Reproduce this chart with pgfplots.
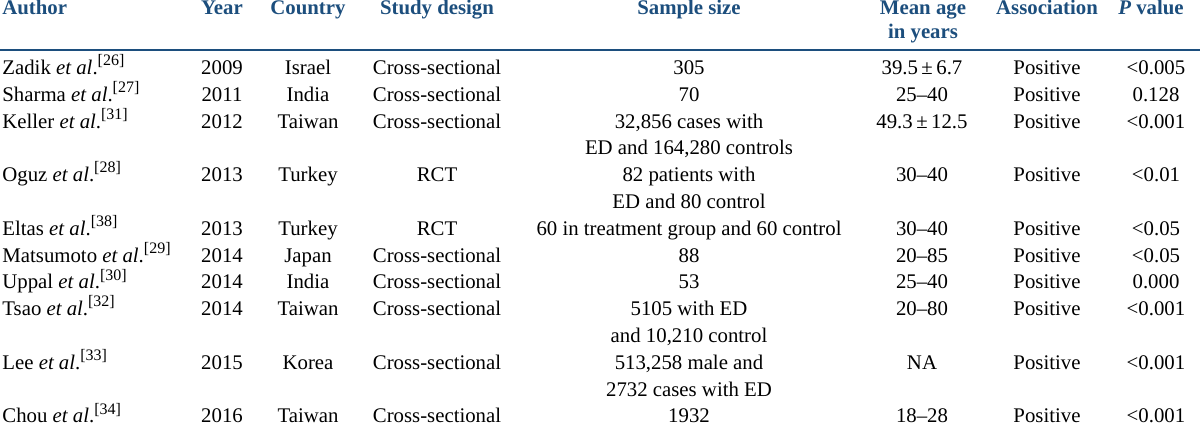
\documentclass[border=0pt]{standalone}
\usepackage{fontspec}
\setmainfont{Liberation Serif}
\usepackage{pgfplots}
\pgfplotsset{compat=1.18}
\definecolor{hdr}{RGB}{28,78,125}
\tikzset{
  hd/.style={anchor=base,inner sep=0pt,text=hdr,font=\fontsize{10.4}{12}\selectfont\bfseries},
  hdl/.style={hd,anchor=base west},
  c/.style={anchor=base,inner sep=0pt,font=\fontsize{10.4}{12}\selectfont},
  l/.style={c,anchor=base west}
}
\newcommand{\etal}{\textit{et al}.}
\newcommand{\rf}[1]{\raisebox{0.42em}{\fontsize{8}{8}\selectfont[#1]}}
\begin{document}
\begin{tikzpicture}
\begin{axis}[width=600pt,height=215.5pt,scale only axis,
  xmin=0,xmax=1200,ymin=0,ymax=431,y dir=reverse,
  axis lines=none,clip=false]
% header
\node[hdl] at (axis cs:2,15) {Author};
\node[hd] at (axis cs:222,15) {Year};
\node[hd] at (axis cs:308,15) {Country};
\node[hd] at (axis cs:437,15) {Study design};
\node[hd] at (axis cs:689,15) {Sample size};
\node[hd] at (axis cs:923,15) {Mean age};
\node[hd] at (axis cs:923,39) {in years};
\node[hd] at (axis cs:1047,15) {Association};
\node[hd] at (axis cs:1151,15) {\textit{P} value};
\addplot[hdr,line width=1pt] coordinates {(0,50) (1200,50)};
% row 1
\node[l] at (axis cs:2,74.5) {Zadik \etal\rf{26}};
\node[c] at (axis cs:222,74.5) {2009};
\node[c] at (axis cs:308,74.5) {Israel};
\node[c] at (axis cs:437,74.5) {Cross-sectional};
\node[c] at (axis cs:689,74.5) {305};
\node[c] at (axis cs:922,74.5) {39.5\,±\,6.7};
\node[c] at (axis cs:1047,74.5) {Positive};
\node[c] at (axis cs:1156,74.5) {<0.005};
% row 2
\node[l] at (axis cs:2,101.3) {Sharma \etal\rf{27}};
\node[c] at (axis cs:222,101.3) {2011};
\node[c] at (axis cs:308,101.3) {India};
\node[c] at (axis cs:437,101.3) {Cross-sectional};
\node[c] at (axis cs:689,101.3) {70};
\node[c] at (axis cs:922,101.3) {25--40};
\node[c] at (axis cs:1047,101.3) {Positive};
\node[c] at (axis cs:1156,101.3) {0.128};
% row 3
\node[l] at (axis cs:2,128.1) {Keller \etal\rf{31}};
\node[c] at (axis cs:222,128.1) {2012};
\node[c] at (axis cs:308,128.1) {Taiwan};
\node[c] at (axis cs:437,128.1) {Cross-sectional};
\node[c] at (axis cs:689,128.1) {32,856 cases with};
\node[c] at (axis cs:689,154.9) {ED and 164,280 controls};
\node[c] at (axis cs:922,128.1) {49.3\,±\,12.5};
\node[c] at (axis cs:1047,128.1) {Positive};
\node[c] at (axis cs:1156,128.1) {<0.001};
% row 4
\node[l] at (axis cs:2,181.7) {Oguz \etal\rf{28}};
\node[c] at (axis cs:222,181.7) {2013};
\node[c] at (axis cs:308,181.7) {Turkey};
\node[c] at (axis cs:437,181.7) {RCT};
\node[c] at (axis cs:689,181.7) {82 patients with};
\node[c] at (axis cs:689,208.5) {ED and 80 control};
\node[c] at (axis cs:922,181.7) {30--40};
\node[c] at (axis cs:1047,181.7) {Positive};
\node[c] at (axis cs:1156,181.7) {<0.01};
% row 5
\node[l] at (axis cs:2,235.3) {Eltas \etal\rf{38}};
\node[c] at (axis cs:222,235.3) {2013};
\node[c] at (axis cs:308,235.3) {Turkey};
\node[c] at (axis cs:437,235.3) {RCT};
\node[c] at (axis cs:689,235.3) {60 in treatment group and 60 control};
\node[c] at (axis cs:922,235.3) {30--40};
\node[c] at (axis cs:1047,235.3) {Positive};
\node[c] at (axis cs:1156,235.3) {<0.05};
% row 6
\node[l] at (axis cs:2,262.1) {Matsumoto \etal\rf{29}};
\node[c] at (axis cs:222,262.1) {2014};
\node[c] at (axis cs:308,262.1) {Japan};
\node[c] at (axis cs:437,262.1) {Cross-sectional};
\node[c] at (axis cs:689,262.1) {88};
\node[c] at (axis cs:922,262.1) {20--85};
\node[c] at (axis cs:1047,262.1) {Positive};
\node[c] at (axis cs:1156,262.1) {<0.05};
% row 7
\node[l] at (axis cs:2,288.9) {Uppal \etal\rf{30}};
\node[c] at (axis cs:222,288.9) {2014};
\node[c] at (axis cs:308,288.9) {India};
\node[c] at (axis cs:437,288.9) {Cross-sectional};
\node[c] at (axis cs:689,288.9) {53};
\node[c] at (axis cs:922,288.9) {25--40};
\node[c] at (axis cs:1047,288.9) {Positive};
\node[c] at (axis cs:1156,288.9) {0.000};
% row 8
\node[l] at (axis cs:2,315.7) {Tsao \etal\rf{32}};
\node[c] at (axis cs:222,315.7) {2014};
\node[c] at (axis cs:308,315.7) {Taiwan};
\node[c] at (axis cs:437,315.7) {Cross-sectional};
\node[c] at (axis cs:689,315.7) {5105 with ED};
\node[c] at (axis cs:689,342.5) {and 10,210 control};
\node[c] at (axis cs:922,315.7) {20--80};
\node[c] at (axis cs:1047,315.7) {Positive};
\node[c] at (axis cs:1156,315.7) {<0.001};
% row 9
\node[l] at (axis cs:2,369.3) {Lee \etal\rf{33}};
\node[c] at (axis cs:222,369.3) {2015};
\node[c] at (axis cs:308,369.3) {Korea};
\node[c] at (axis cs:437,369.3) {Cross-sectional};
\node[c] at (axis cs:689,369.3) {513,258 male and};
\node[c] at (axis cs:689,396.1) {2732 cases with ED};
\node[c] at (axis cs:922,369.3) {NA};
\node[c] at (axis cs:1047,369.3) {Positive};
\node[c] at (axis cs:1156,369.3) {<0.001};
% row 10
\node[l] at (axis cs:2,422.9) {Chou \etal\rf{34}};
\node[c] at (axis cs:222,422.9) {2016};
\node[c] at (axis cs:308,422.9) {Taiwan};
\node[c] at (axis cs:437,422.9) {Cross-sectional};
\node[c] at (axis cs:689,422.9) {1932};
\node[c] at (axis cs:922,422.9) {18--28};
\node[c] at (axis cs:1047,422.9) {Positive};
\node[c] at (axis cs:1156,422.9) {<0.001};
\end{axis}
\pgfresetboundingbox
\useasboundingbox (current axis.south west) rectangle (current axis.north east);
\end{tikzpicture}
\end{document}
